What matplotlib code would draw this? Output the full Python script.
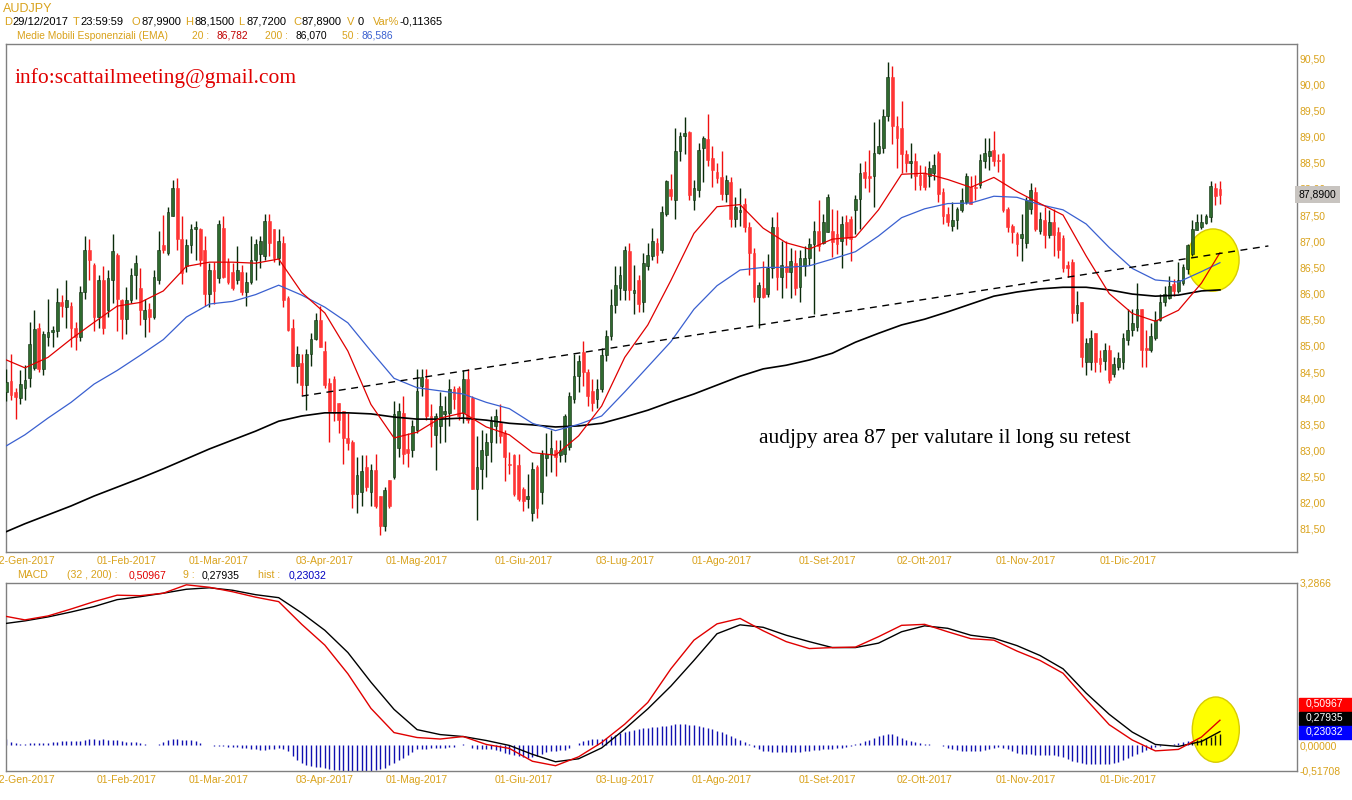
import numpy as np
import matplotlib.pyplot as plt
from matplotlib.patches import Ellipse, Rectangle
from matplotlib.ticker import FuncFormatter

plt.rcParams['font.family'] = ['Liberation Sans', 'DejaVu Sans']

W, H = 1352, 800
ORANGE = '#D9A21B'
UP_BODY = '#2F6A2F'
UP_WICK = '#0A2A0A'
DN_BODY = '#FF3535'
DN_WICK = '#F01010'

# --- daily candles, index 0 = 02-Gen-2017 (4 late-2016 bars before it) ---
first_idx = -4
opens = [
    84.12, 84.32, 84.11, 84.01, 84.19, 84.38, 84.58, 85.35, 84.56, 85.17,
    85.27, 85.29, 85.84, 85.75, 85.77, 85.35, 85.16, 86.03, 86.84, 86.55,
    85.55, 86.26, 85.68, 86.26, 86.74, 85.87, 85.51, 85.87, 86.36, 86.10,
    85.51, 85.71, 85.55, 86.26, 86.92, 86.78, 87.49, 88.02, 87.04, 86.52,
    86.92, 87.24, 87.23, 86.84, 86.00, 86.45, 86.30, 87.26, 86.61, 86.42,
    86.26, 86.42, 86.03, 86.23, 86.65, 86.75, 86.71, 87.39, 87.23, 86.68,
    86.97, 85.92, 85.34, 84.62, 84.68, 84.26, 84.84, 85.14, 85.50, 84.91,
    84.29, 84.36, 83.91, 83.75, 83.23, 83.17, 82.17, 82.20, 82.68, 82.20,
    82.62, 82.13, 81.55, 82.43, 82.50, 83.04, 83.72, 83.03, 83.01, 83.40,
    84.24, 84.37, 83.66, 83.30, 83.46, 83.70, 83.72, 84.17, 84.20, 83.72,
    84.37, 84.01, 82.26, 82.65, 82.91, 83.17, 83.46, 83.53, 83.33, 82.75,
    82.91, 82.72, 82.26, 82.07, 81.81, 82.68, 82.20, 82.85, 82.94, 83.01,
    82.91, 82.94, 83.07, 83.98, 84.43, 84.88, 84.50, 84.14, 83.98, 84.17,
    84.82, 85.18, 85.79, 86.10, 86.06, 86.81, 86.02, 86.25, 85.84, 86.52,
    86.71, 86.97, 86.84, 87.52, 87.99, 87.78, 88.72, 89.01, 89.08, 87.78,
    87.98, 88.79, 88.95, 88.59, 88.33, 88.23, 87.91, 88.14, 87.43, 87.56,
    87.72, 87.27, 86.78, 85.94, 86.10, 86.00, 86.49, 87.27, 86.32, 86.52,
    86.42, 86.58, 86.13, 86.52, 86.68, 86.94, 87.20, 86.97, 87.17, 87.20,
    87.14, 87.00, 87.36, 87.43, 87.59, 87.81, 88.33, 88.24, 88.24, 88.69,
    88.79, 89.40, 90.14, 89.21, 89.17, 88.66, 88.50, 88.53, 88.27, 88.30,
    88.24, 88.30, 88.69, 87.95, 87.52, 87.30, 87.40, 87.59, 87.75, 88.04,
    88.04, 88.07, 88.53, 88.62, 88.75, 88.56, 88.66, 87.62, 87.30, 87.14,
    87.07, 86.97, 87.62, 87.95, 87.20, 87.40, 87.11, 87.36, 87.17, 87.07,
    86.55, 86.60, 85.63, 85.83, 84.69, 84.69, 85.24, 84.76, 84.72, 84.92,
    84.47, 84.60, 84.69, 85.11, 85.31, 85.37, 85.70, 84.95, 84.92, 85.15,
    85.50, 85.83, 85.92, 86.18, 86.05, 86.21, 86.47, 86.76, 87.21, 87.28,
    87.34, 87.47, 88.02, 87.99,
]
highs = [
    84.56, 84.84, 84.19, 84.54, 84.64, 85.45, 85.68, 85.43, 85.29, 85.90,
    85.38, 86.10, 85.97, 86.26, 85.84, 85.45, 86.14, 87.10, 87.04, 86.58,
    86.36, 86.52, 86.45, 87.13, 86.78, 85.90, 86.13, 86.49, 86.73, 86.49,
    85.90, 85.81, 86.45, 87.20, 87.50, 87.65, 88.17, 88.20, 87.49, 87.04,
    87.33, 87.39, 87.26, 87.10, 86.58, 86.60, 87.40, 87.49, 86.68, 86.58,
    86.91, 86.55, 86.42, 87.10, 87.04, 87.10, 87.52, 87.52, 87.24, 87.24,
    87.10, 85.96, 85.51, 85.00, 84.84, 84.94, 85.24, 85.63, 85.76, 85.10,
    84.39, 84.42, 83.91, 83.75, 83.72, 83.20, 82.88, 82.91, 82.91, 82.75,
    82.94, 82.13, 82.30, 82.43, 83.95, 83.91, 84.04, 83.33, 83.59, 84.56,
    84.56, 84.56, 83.88, 83.72, 84.11, 84.04, 84.37, 84.24, 84.24, 84.53,
    84.56, 84.04, 83.27, 83.40, 83.33, 83.66, 83.79, 83.88, 83.40, 82.98,
    82.94, 82.94, 82.30, 82.55, 82.78, 82.72, 83.01, 83.33, 83.40, 83.20,
    83.20, 83.69, 84.11, 84.85, 84.82, 85.09, 84.56, 84.37, 84.37, 84.95,
    85.31, 86.08, 86.53, 86.53, 86.91, 86.97, 86.55, 86.35, 86.78, 86.97,
    87.26, 87.07, 87.68, 88.18, 88.28, 89.17, 89.08, 89.37, 89.11, 88.17,
    88.88, 89.01, 89.43, 88.82, 88.49, 88.72, 88.27, 88.23, 87.85, 88.01,
    87.82, 87.36, 86.88, 86.23, 86.62, 86.75, 87.46, 87.56, 87.00, 87.00,
    86.88, 86.84, 86.84, 86.91, 87.07, 87.39, 87.78, 87.52, 87.91, 87.62,
    87.59, 87.49, 87.50, 87.49, 87.88, 88.50, 88.53, 88.75, 89.27, 89.34,
    89.53, 90.42, 90.34, 89.40, 89.69, 88.75, 88.88, 88.69, 88.46, 88.43,
    88.53, 88.66, 88.72, 88.01, 87.65, 87.75, 87.65, 88.01, 88.30, 88.24,
    88.27, 88.66, 88.98, 88.98, 89.11, 88.66, 88.69, 87.65, 87.33, 87.17,
    87.52, 87.85, 88.11, 88.04, 87.56, 87.65, 87.59, 87.62, 87.27, 87.12,
    86.62, 86.67, 86.05, 85.83, 85.15, 85.31, 85.24, 84.92, 85.05, 85.02,
    84.79, 84.89, 85.24, 85.70, 85.70, 86.21, 85.70, 85.31, 85.44, 85.66,
    85.99, 86.15, 86.34, 86.28, 86.60, 86.56, 86.95, 87.40, 87.53, 87.53,
    87.53, 88.15, 88.12, 88.15,
]
lows = [
    83.94, 83.96, 83.61, 83.88, 83.96, 84.22, 84.54, 84.51, 84.45, 85.00,
    84.97, 85.16, 85.55, 85.35, 84.97, 84.93, 85.09, 85.90, 86.26, 85.29,
    85.35, 85.22, 85.55, 85.81, 85.29, 85.13, 85.22, 85.81, 85.90, 85.39,
    85.16, 85.26, 85.52, 86.19, 86.78, 86.74, 87.49, 86.84, 86.19, 86.42,
    86.78, 86.65, 86.52, 85.77, 85.75, 85.80, 86.20, 86.29, 86.19, 86.07,
    86.19, 85.97, 85.77, 86.19, 86.26, 86.48, 86.65, 86.71, 86.61, 86.55,
    85.74, 85.28, 84.62, 84.29, 84.07, 83.77, 84.62, 85.11, 84.97, 84.19,
    83.17, 83.56, 83.33, 82.75, 83.01, 81.91, 81.81, 81.94, 82.23, 81.94,
    81.91, 81.38, 81.46, 81.90, 82.45, 82.88, 82.75, 82.68, 82.88, 83.33,
    84.04, 83.59, 83.07, 82.62, 83.14, 83.17, 83.46, 83.79, 83.59, 83.53,
    83.53, 82.26, 81.68, 82.26, 82.49, 82.78, 83.14, 83.14, 82.42, 82.55,
    82.13, 82.04, 81.84, 81.91, 81.65, 81.71, 81.97, 82.52, 82.59, 82.52,
    82.78, 82.78, 83.01, 83.91, 84.11, 84.24, 83.85, 83.75, 83.82, 84.11,
    84.72, 85.11, 85.63, 85.88, 85.87, 85.87, 85.61, 85.65, 85.64, 86.45,
    86.65, 86.58, 86.78, 87.49, 87.79, 87.43, 88.53, 88.66, 87.78, 87.59,
    87.85, 88.14, 88.43, 88.04, 88.11, 87.78, 87.75, 87.27, 87.27, 87.30,
    87.17, 86.36, 85.84, 85.35, 85.91, 85.94, 86.29, 86.07, 85.91, 86.10,
    85.91, 85.97, 85.84, 86.33, 86.55, 85.61, 86.81, 86.94, 87.17, 86.70,
    86.75, 86.49, 86.92, 86.62, 87.14, 87.23, 88.01, 87.95, 87.65, 88.66,
    88.69, 89.30, 88.85, 88.40, 88.30, 88.33, 88.20, 87.98, 87.98, 87.98,
    88.04, 88.17, 87.75, 87.33, 87.30, 87.20, 87.23, 87.56, 87.72, 87.72,
    87.78, 88.01, 88.40, 88.37, 88.43, 88.33, 87.56, 87.17, 86.97, 86.71,
    86.62, 86.88, 87.52, 87.20, 87.14, 86.88, 87.07, 86.71, 86.68, 86.42,
    86.32, 85.44, 85.47, 84.60, 84.45, 84.53, 84.50, 84.50, 84.53, 84.29,
    84.40, 84.53, 84.56, 85.02, 85.18, 85.28, 84.60, 84.60, 84.89, 85.11,
    85.47, 85.76, 85.89, 85.96, 86.02, 86.17, 86.37, 86.72, 87.21, 87.24,
    87.33, 87.37, 87.70, 87.72,
]
closes = [
    84.30, 84.07, 84.02, 84.28, 84.35, 85.03, 85.32, 84.56, 85.22, 85.27,
    85.29, 85.84, 85.77, 85.87, 85.35, 85.16, 86.03, 86.84, 86.65, 85.55,
    86.26, 85.35, 86.29, 86.81, 85.90, 85.51, 85.87, 86.36, 86.58, 85.68,
    85.68, 85.55, 86.32, 86.84, 86.84, 87.55, 88.02, 87.04, 86.39, 86.92,
    87.24, 87.28, 86.65, 86.00, 86.45, 86.05, 87.33, 86.32, 86.23, 86.10,
    86.45, 86.03, 86.23, 86.65, 86.94, 87.00, 87.39, 86.97, 86.68, 87.00,
    85.87, 85.31, 84.62, 84.84, 84.26, 84.84, 85.14, 85.50, 84.97, 84.26,
    83.75, 83.72, 83.59, 83.23, 83.15, 82.17, 82.53, 82.60, 82.30, 82.62,
    81.94, 81.55, 82.25, 81.94, 83.69, 83.75, 82.94, 82.96, 83.46, 84.14,
    84.40, 83.65, 83.46, 83.66, 83.85, 83.76, 84.17, 83.98, 83.66, 84.37,
    83.59, 82.26, 82.68, 83.01, 83.17, 83.56, 83.66, 83.27, 82.88, 82.72,
    82.17, 82.07, 82.04, 82.13, 82.65, 81.91, 82.94, 82.94, 83.04, 82.88,
    83.01, 83.66, 84.04, 84.43, 84.72, 84.50, 84.04, 83.91, 84.17, 84.82,
    85.18, 85.79, 86.17, 86.36, 86.84, 86.06, 86.07, 85.80, 86.58, 86.74,
    87.00, 86.74, 87.55, 88.15, 87.86, 88.72, 89.01, 89.06, 87.88, 88.01,
    88.75, 88.98, 88.56, 88.37, 88.20, 87.91, 88.17, 87.43, 87.65, 87.59,
    87.27, 86.78, 85.94, 86.16, 85.94, 86.49, 87.27, 86.32, 86.55, 86.42,
    86.62, 86.10, 86.68, 86.68, 86.94, 87.20, 86.91, 87.36, 87.85, 86.98,
    86.94, 87.33, 87.07, 87.04, 87.81, 88.30, 88.20, 88.21, 88.69, 88.82,
    89.40, 90.14, 89.21, 88.98, 88.66, 88.50, 88.54, 88.24, 88.07, 88.04,
    88.40, 88.46, 87.91, 87.49, 87.36, 87.40, 87.62, 87.78, 88.24, 87.72,
    88.01, 88.56, 88.69, 88.72, 88.53, 88.53, 87.59, 87.27, 87.17, 86.94,
    87.14, 87.78, 87.98, 87.23, 87.43, 87.11, 87.36, 87.11, 86.84, 86.49,
    86.49, 85.63, 85.79, 84.79, 85.05, 85.15, 84.69, 84.66, 84.92, 84.34,
    84.66, 84.76, 85.15, 85.31, 85.44, 85.70, 84.92, 84.92, 85.18, 85.50,
    85.83, 85.99, 86.15, 86.05, 86.25, 86.50, 86.92, 87.24, 87.37, 87.37,
    87.48, 88.05, 87.86, 87.89,
]

# --- moving averages and MACD, read about every 5 bars ---
ema_idx = [-4] + list(range(0, 256, 5)) + [259]
ema20 = [84.73, 84.58, 84.78, 85.13, 85.45, 85.76, 85.83, 86.05, 86.52, 86.60,
         86.60, 86.58, 86.66, 86.02, 85.63, 84.90, 83.88, 83.24, 83.35, 83.62,
         83.72, 83.45, 83.30, 82.96, 82.91, 83.28, 83.85, 84.78, 85.40, 86.25,
         87.15, 87.66, 87.70, 87.25, 86.97, 86.85, 87.04, 87.08, 87.60, 88.28,
         88.30, 88.18, 88.03, 88.22, 87.95, 87.72, 87.50, 86.72, 86.00, 85.62,
         85.47, 85.68, 86.20, 86.78]
ema50 = [83.09, 83.30, 83.62, 83.92, 84.27, 84.53, 84.82, 85.12, 85.55, 85.80,
         85.85, 85.98, 86.16, 85.97, 85.74, 85.44, 84.90, 84.38, 84.20, 84.14,
         84.08, 83.92, 83.80, 83.52, 83.38, 83.50, 83.66, 84.12, 84.60, 85.08,
         85.70, 86.15, 86.45, 86.50, 86.50, 86.53, 86.66, 86.80, 87.10, 87.45,
         87.62, 87.72, 87.73, 87.86, 87.84, 87.70, 87.60, 87.33, 86.88, 86.48,
         86.26, 86.22, 86.42, 86.59]
ema200 = [81.45, 81.60, 81.77, 81.94, 82.13, 82.30, 82.47, 82.65, 82.84, 83.03,
          83.20, 83.37, 83.56, 83.66, 83.72, 83.72, 83.70, 83.64, 83.60, 83.60,
          83.62, 83.58, 83.52, 83.49, 83.45, 83.47, 83.52, 83.64, 83.77, 83.93,
          84.08, 84.25, 84.42, 84.56, 84.63, 84.73, 84.86, 85.07, 85.24, 85.40,
          85.51, 85.65, 85.80, 85.95, 86.03, 86.09, 86.12, 86.12, 86.07, 85.99,
          85.95, 85.97, 86.05, 86.07]
macd = [2.61, 2.54, 2.62, 2.76, 2.91, 3.04, 3.03, 3.08, 3.25, 3.20,
        3.11, 3.00, 2.91, 2.45, 2.03, 1.45, 0.75, 0.26, 0.16, 0.13,
        0.18, 0.02, -0.06, -0.32, -0.41, -0.23, 0.06, 0.43, 0.87, 1.55,
        2.13, 2.46, 2.57, 2.32, 2.10, 1.96, 1.98, 1.99, 2.20, 2.43,
        2.45, 2.30, 2.16, 2.13, 1.91, 1.72, 1.46, 0.93, 0.42, 0.11,
        -0.11, -0.08, 0.17, 0.51]
signal = [2.47, 2.52, 2.60, 2.70, 2.81, 2.95, 3.01, 3.08, 3.16, 3.19,
          3.14, 3.05, 2.99, 2.68, 2.33, 1.88, 1.28, 0.73, 0.32, 0.22,
          0.18, 0.10, 0.00, -0.18, -0.33, -0.27, -0.05, 0.33, 0.74, 1.20,
          1.72, 2.26, 2.44, 2.39, 2.23, 2.10, 1.98, 1.98, 2.07, 2.30,
          2.42, 2.37, 2.23, 2.17, 2.02, 1.82, 1.55, 1.06, 0.63, 0.27,
          0.02, -0.02, 0.08, 0.28]
hist = [
    0.13, 0.06, 0.04, 0.03, 0.03, 0.04, 0.04, 0.04, 0.05, 0.05,
    0.06, 0.07, 0.08, 0.08, 0.09, 0.10, 0.09, 0.12, 0.14, 0.13,
    0.12, 0.13, 0.12, 0.11, 0.12, 0.08, 0.07, 0.06, 0.06, 0.05,
    0.02, 0.01, 0.00, 0.03, 0.06, 0.12, 0.14, 0.13, 0.12, 0.12,
    0.11, 0.10, 0.04, 0.01, 0.00, -0.01, -0.02, -0.02, -0.03, -0.03,
    -0.04, -0.05, -0.06, -0.07, -0.08, -0.09, -0.09, -0.08, -0.07, -0.06,
    -0.08, -0.12, -0.22, -0.30, -0.36, -0.40, -0.42, -0.43, -0.44, -0.45,
    -0.47, -0.49, -0.50, -0.51, -0.52, -0.52, -0.52, -0.52, -0.52, -0.51,
    -0.50, -0.48, -0.45, -0.40, -0.35, -0.30, -0.25, -0.20, -0.14, -0.08,
    -0.07, -0.07, -0.06, -0.06, -0.05, -0.05, -0.04, -0.03, 0.01, 0.02,
    0.01, -0.06, -0.07, -0.08, -0.08, -0.08, -0.09, -0.12, -0.15, -0.17,
    -0.19, -0.21, -0.23, -0.25, -0.24, -0.22, -0.18, -0.14, -0.12, -0.11,
    -0.10, -0.09, -0.05, 0.00, 0.05, 0.09, 0.12, 0.13, 0.13, 0.14,
    0.16, 0.19, 0.22, 0.25, 0.27, 0.29, 0.31, 0.33, 0.35, 0.36,
    0.37, 0.38, 0.39, 0.40, 0.42, 0.43, 0.44, 0.43, 0.42, 0.41,
    0.40, 0.38, 0.36, 0.33, 0.30, 0.27, 0.24, 0.20, 0.16, 0.12,
    0.07, 0.03, -0.03, -0.08, -0.11, -0.12, -0.13, -0.14, -0.14, -0.14,
    -0.14, -0.13, -0.13, -0.12, -0.11, -0.10, -0.09, -0.08, -0.08, -0.07,
    -0.06, -0.05, -0.04, -0.01, 0.02, 0.05, 0.08, 0.12, 0.15, 0.19,
    0.22, 0.23, 0.23, 0.20, 0.16, 0.12, 0.09, 0.06, 0.04, 0.03,
    0.02, 0.01, 0.00, -0.02, -0.05, -0.08, -0.10, -0.11, -0.12, -0.12,
    -0.12, -0.11, -0.10, -0.08, -0.05, -0.04, -0.05, -0.08, -0.12, -0.16,
    -0.17, -0.18, -0.18, -0.19, -0.19, -0.19, -0.20, -0.20, -0.21, -0.24,
    -0.28, -0.31, -0.34, -0.36, -0.37, -0.38, -0.38, -0.38, -0.37, -0.37,
    -0.36, -0.34, -0.30, -0.26, -0.22, -0.18, -0.14, -0.10, -0.07, -0.04,
    -0.02, 0.00, 0.01, 0.02, 0.04, 0.06, 0.08, 0.10, 0.12, 0.14,
    0.16, 0.18, 0.21, 0.23,
]

# trendline (support) drawn on the chart
trend_idx = [60, 269.5]
trend_val = [84.04, 86.91]

tick_idx = [0, 22, 42, 65, 85, 108, 130, 151, 174, 195, 217, 239]
tick_labels = ['02-Gen-2017', '01-Feb-2017', '01-Mar-2017', '03-Apr-2017',
               '01-Mag-2017', '01-Giu-2017', '03-Lug-2017', '01-Ago-2017',
               '01-Set-2017', '02-Ott-2017', '01-Nov-2017', '01-Dic-2017']

last_vals = ['0,50967', '0,27935', '0,23032']


def fx(x):
    return x / W


def fy(y):
    return 1 - y / H


def comma(v, digits):
    return f"{v:.{digits}f}".replace('.', ',')


fig = plt.figure(figsize=(W / 100, H / 100), dpi=100)
ax = fig.add_axes([fx(5.7), fy(552), fx(1297 - 5.7), (552 - 44) / H])
axm = fig.add_axes([fx(5.7), fy(771), fx(1297 - 5.7), (771 - 583) / H])

xlim = (-4.16, 275.7)

# candles
idx = np.arange(first_idx, first_idx + len(closes))
o = np.array(opens)
hi = np.array(highs)
lo = np.array(lows)
c = np.array(closes)
up = c >= o
ax.vlines(idx[up], lo[up], hi[up], color=UP_WICK, lw=1, zorder=3)
ax.vlines(idx[~up], lo[~up], hi[~up], color=DN_WICK, lw=1, zorder=3)
body_lo = np.minimum(o, c)
body_h = np.maximum(np.abs(c - o), 0.025)
ax.bar(idx[up], body_h[up], bottom=body_lo[up], width=0.6, color=UP_BODY,
       edgecolor=UP_WICK, lw=0.4, zorder=4)
ax.bar(idx[~up], body_h[~up], bottom=body_lo[~up], width=0.6, color=DN_BODY,
       edgecolor=DN_BODY, lw=0.4, zorder=4)

ax.add_patch(Ellipse((257.5, 86.64), 11.3, 1.19, facecolor='#FFFF00',
                     edgecolor='#D8CC00', lw=1, zorder=2))

ax.plot(ema_idx, ema200, color='black', lw=1.2, zorder=5)
ax.plot(ema_idx, ema50, color='#3A60D0', lw=0.9, zorder=5)
ax.plot(ema_idx, ema20, color='#E00000', lw=0.9, zorder=6)
ax.plot(trend_idx, trend_val, color='black', lw=1, ls=(0, (5, 4)), zorder=6)

ax.set_xlim(*xlim)
ax.set_ylim(81.06, 90.77)
ax.yaxis.tick_right()
ax.set_yticks(np.arange(81.5, 90.51, 0.5))
ax.yaxis.set_major_formatter(FuncFormatter(lambda v, p: comma(v, 2)))
ax.set_xticks(tick_idx)
ax.set_xticklabels(tick_labels)

ax.text(0.007, 0.933, 'info:scattailmeeting@gmail.com', transform=ax.transAxes,
        family=['Liberation Serif', 'DejaVu Serif'], fontsize=15.5,
        color='#E00000', va='center')
ax.text(0.583, 0.224, 'audjpy area 87 per valutare il long su retest',
        transform=ax.transAxes, family=['Liberation Serif', 'DejaVu Serif'],
        fontsize=15.5, color='black', va='center')

# MACD panel
axm.add_patch(Ellipse((258.1, 0.32), 10.2, 1.32, facecolor='#FFFF00',
                      edgecolor='#D8CC00', lw=1, zorder=1))
hist_col = np.where(idx >= 253, '#101010', '#1010B0')
axm.vlines(idx, 0, hist, colors=hist_col, lw=1, zorder=2)
axm.plot(ema_idx, signal, color='black', lw=1, zorder=3)
axm.plot(ema_idx, macd, color='#E00000', lw=1, zorder=4)
axm.set_xlim(*xlim)
axm.set_ylim(-0.51708, 3.2866)
axm.yaxis.tick_right()
axm.set_yticks([-0.51708, 0, 3.2866])
axm.set_yticklabels(['-0,51708', '0,00000', '3,2866'])
axm.set_xticks(tick_idx)
axm.set_xticklabels(tick_labels)

for a in (ax, axm):
    for s in a.spines.values():
        s.set_color('#808080')
        s.set_linewidth(1)
    a.tick_params(axis='y', length=0, pad=2, labelsize=7.5, labelcolor=ORANGE)
    a.tick_params(axis='x', length=0, pad=3, labelsize=7.5, labelcolor=ORANGE)
    for t in a.get_yticklabels():
        t.set_horizontalalignment('left')

# last-value boxes on the right axis
ax.text(1.0015, closes[-1], comma(closes[-1], 4), transform=ax.get_yaxis_transform(),
        fontsize=7.5, va='center', ha='left', color='black',
        bbox=dict(boxstyle='square,pad=0.35', fc='#C8C4C0', ec='none'), zorder=10)
for yy, txt, col in zip([704, 718, 732], last_vals, ['#FF0000', '#000000', '#0000FF']):
    fig.add_artist(Rectangle((fx(1299), fy(yy + 6.5)), fx(53), 13 / H,
                             transform=fig.transFigure, color=col, zorder=10))
    fig.text(fx(1306), fy(yy), txt, color='white', fontsize=7.5, va='center',
             ha='left', zorder=11)


# header
def row(y, items, size=8):
    for x, s, col in items:
        fig.text(fx(x), fy(y), s, color=col, fontsize=size, va='center', ha='left')


fig.text(fx(3), fy(9), 'AUDJPY', color=ORANGE, fontsize=9, va='center')
row(22, [(4, 'D', ORANGE), (12, '29/12/2017', 'black'), (73, 'T', ORANGE),
         (80, '23:59:59', 'black'), (132, 'O', ORANGE), (142, '87,9900', 'black'),
         (185, 'H', ORANGE), (195, '88,1500', 'black'), (238, 'L', ORANGE),
         (246, '87,7200', 'black'), (293, 'C', ORANGE), (301, '87,8900', 'black'),
         (347, 'V', ORANGE), (358, '0', 'black'), (373, 'Var%', ORANGE),
         (400, '-0,11365', 'black')])
row(36, [(17, 'Medie Mobili Esponenziali (EMA)', ORANGE), (192, '20 :', ORANGE),
         (217, '86,782', '#C00000'), (265, '200 :', ORANGE), (295, '86,070', 'black'),
         (342, '50 :', ORANGE), (362, '86,586', '#3A60D0')], size=7.4)
row(575, [(17, 'MACD', ORANGE), (67, '(32 , 200) :', ORANGE),
          (129, '0,50967', '#E00000'), (183, '9 :', ORANGE),
          (202, '0,27935', 'black'), (258, 'hist :', ORANGE),
          (289, '0,23032', '#0000C0')], size=7.6)

fig.savefig('out.png', dpi=100, facecolor='white')
